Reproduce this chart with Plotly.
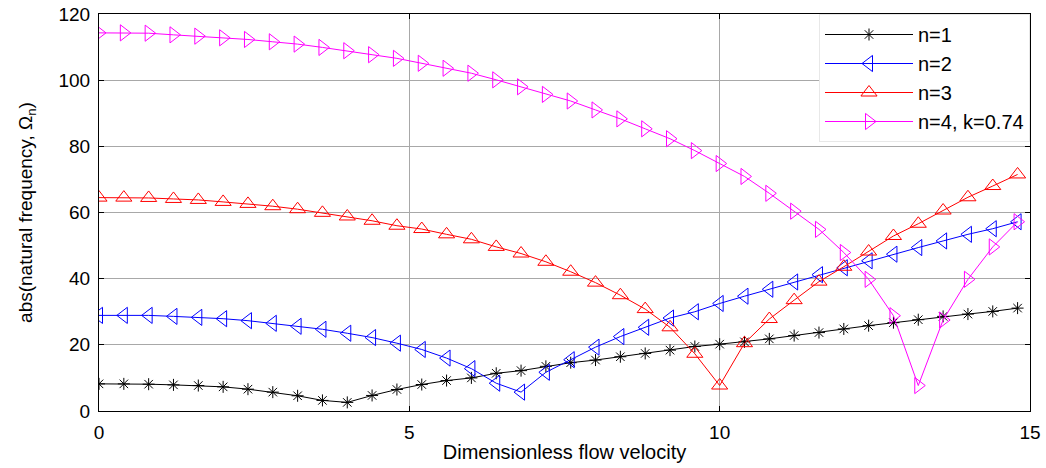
import plotly.graph_objects as go

# Dimensionless flow velocity samples (0 to 14.8 in steps of 0.4)
velocity = [round(0.4 * i, 1) for i in range(38)]

n1 = [8.2, 8.2, 8.1, 7.9, 7.7, 7.3, 6.6, 5.7, 4.6, 3.2, 2.6, 4.7, 6.5,
      8.0, 9.2, 10.0, 11.4, 12.2, 13.5, 14.6, 15.4, 16.4, 17.4, 18.4, 19.5,
      20.2, 20.9, 21.8, 22.8, 23.7, 24.8, 25.8, 26.7, 27.6, 28.6, 29.3, 30.1, 31.1]
n2 = [28.9, 28.9, 28.9, 28.6, 28.3, 27.9, 27.3, 26.5, 25.6, 24.7, 23.5, 22.2, 20.5,
      18.6, 16.0, 12.8, 8.4, 5.7, 11.7, 15.5, 19.3, 22.5, 25.3, 28.1, 30.0,
      32.5, 34.7, 36.8, 39.0, 41.2, 43.3, 45.4, 47.4, 49.4, 51.4, 53.4, 55.1, 57.2]
n3 = [64.5, 64.5, 64.4, 64.1, 63.8, 63.2, 62.6, 61.9, 61.0, 59.9, 58.8, 57.5, 56.0,
      55.0, 53.4, 51.9, 49.6, 47.6, 45.1, 42.1, 38.8, 35.0, 30.8, 25.3, 17.3,
      7.7, 20.5, 27.8, 33.5, 39.1, 43.6, 48.2, 52.9, 56.6, 60.6, 64.6, 68.0, 71.5]
n4 = [114.3, 114.3, 114.2, 113.7, 113.3, 112.8, 112.3, 111.6, 110.9, 109.9, 108.9, 107.7, 106.6,
      105.1, 103.6, 102.1, 100.1, 98.0, 95.7, 93.7, 91.0, 88.3, 85.3, 82.3, 78.7,
      74.8, 70.9, 65.8, 60.4, 54.9, 47.9, 39.8, 28.8, 7.7, 27.5, 39.8, 49.6, 57.2]

series = [
    ("n=1", n1, "black", "asterisk-open", 10),
    ("n=2", n2, "#0000ff", "triangle-left-open", 14),
    ("n=3", n3, "#ff0000", "triangle-up-open", 14),
    ("n=4, k=0.74", n4, "#ff00ff", "triangle-right-open", 14),
]

FONT = "Liberation Sans, Arial"

fig = go.Figure()
for name, vals, color, symbol, size in series:
    fig.add_trace(go.Scatter(
        x=velocity, y=vals, name=name, mode="lines+markers", legendgroup=name,
        line=dict(color=color, width=1),
        marker=dict(symbol=symbol, size=size, color=color,
                    line=dict(color=color, width=1)),
    ))

axis_common = dict(
    showline=True, linecolor="black", linewidth=1, mirror="ticks",
    ticks="inside", ticklen=5, tickcolor="black",
    showgrid=True, gridcolor="#a8a8a8", gridwidth=1,
    zeroline=False, automargin=False,
    tickfont=dict(family=FONT, size=19, color="black"),
)

fig.update_xaxes(range=[0, 15], tickvals=[0, 5, 10, 15], ticklabelstandoff=4,
                 **axis_common,
                 title=dict(text="Dimensionless flow velocity", standoff=3,
                            font=dict(family=FONT, size=20, color="black")))
fig.update_yaxes(range=[0, 120], tickvals=[0, 20, 40, 60, 80, 100, 120],
                 ticklabelstandoff=4, **axis_common,
                 title=dict(text="abs(natural frequency, Ω<sub>n</sub>)", standoff=20,
                            font=dict(family=FONT, size=19, color="black")))

fig.update_layout(
    width=1046, height=468,
    margin=dict(l=99, r=16, t=14, b=57),
    paper_bgcolor="white", plot_bgcolor="white",
    showlegend=True,
    legend=dict(
        x=1.0, y=1.0, xanchor="right", yanchor="top",
        bgcolor="white", bordercolor="#e8e8e8", borderwidth=1,
        font=dict(family=FONT, size=20, color="black"),
        itemwidth=88, tracegroupgap=0,
    ),
)

fig.write_html("out.html")
